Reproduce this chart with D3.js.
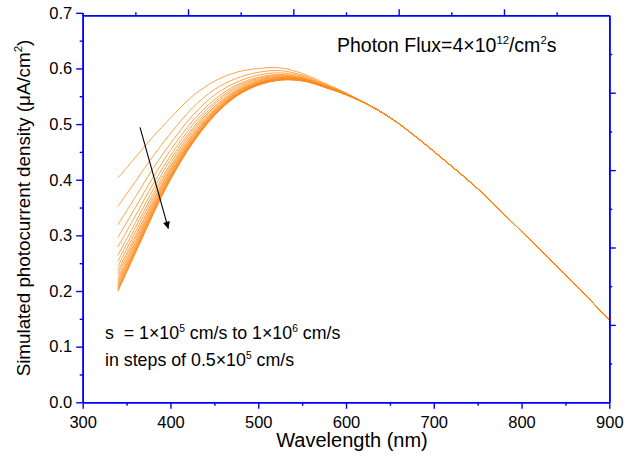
<!DOCTYPE html>
<html>
<head>
<meta charset="utf-8">
<script src="https://d3js.org/d3.v7.min.js"></script>
<style>
  body { margin: 0; background: #fff; }
  text { font-family: "Liberation Sans", Arial, sans-serif; fill: #000; }
</style>
</head>
<body>
<div id="home"></div>
<script>
// wavelengths (nm) where each curve was read, up to 600 nm
const waveHead = [340, 360, 380, 400, 425, 450, 475, 500, 525, 550, 575, 600];
// one row per s value: 1e5 .. 1e6 cm/s in steps of 0.5e5
const sValues = [1, 1.5, 2, 2.5, 3, 3.5, 4, 4.5, 5, 5.5, 6, 6.5, 7, 7.5, 8, 8.5, 9, 9.5, 10];
const headCurves = [
  [0.403, 0.440, 0.477, 0.511, 0.550, 0.577, 0.593, 0.600, 0.601, 0.591, 0.574, 0.556],
  [0.352, 0.397, 0.442, 0.483, 0.529, 0.562, 0.582, 0.593, 0.596, 0.588, 0.572, 0.555],
  [0.319, 0.369, 0.420, 0.465, 0.515, 0.552, 0.575, 0.588, 0.592, 0.586, 0.571, 0.555],
  [0.296, 0.350, 0.404, 0.453, 0.505, 0.544, 0.570, 0.584, 0.589, 0.584, 0.570, 0.554],
  [0.279, 0.335, 0.392, 0.443, 0.498, 0.539, 0.567, 0.582, 0.588, 0.583, 0.569, 0.554],
  [0.264, 0.323, 0.382, 0.436, 0.492, 0.535, 0.564, 0.580, 0.586, 0.582, 0.569, 0.554],
  [0.253, 0.314, 0.374, 0.429, 0.488, 0.531, 0.561, 0.578, 0.585, 0.581, 0.568, 0.554],
  [0.244, 0.306, 0.368, 0.424, 0.484, 0.529, 0.559, 0.577, 0.584, 0.581, 0.568, 0.554],
  [0.236, 0.299, 0.362, 0.420, 0.480, 0.526, 0.558, 0.575, 0.583, 0.580, 0.568, 0.554],
  [0.230, 0.294, 0.358, 0.417, 0.478, 0.524, 0.556, 0.5745, 0.582, 0.580, 0.567, 0.553],
  [0.224, 0.289, 0.354, 0.4135, 0.475, 0.5226, 0.555, 0.5737, 0.5817, 0.5795, 0.567, 0.553],
  [0.219, 0.285, 0.351, 0.411, 0.473, 0.521, 0.554, 0.573, 0.581, 0.579, 0.567, 0.553],
  [0.215, 0.281, 0.348, 0.4085, 0.4715, 0.520, 0.553, 0.572, 0.5807, 0.579, 0.567, 0.553],
  [0.211, 0.278, 0.345, 0.4065, 0.470, 0.519, 0.5525, 0.572, 0.580, 0.579, 0.567, 0.553],
  [0.208, 0.275, 0.343, 0.405, 0.469, 0.518, 0.552, 0.571, 0.580, 0.578, 0.567, 0.553],
  [0.205, 0.273, 0.341, 0.403, 0.4675, 0.517, 0.551, 0.571, 0.5796, 0.578, 0.567, 0.553],
  [0.2025, 0.271, 0.339, 0.402, 0.466, 0.516, 0.5507, 0.5705, 0.5794, 0.578, 0.567, 0.553],
  [0.201, 0.269, 0.338, 0.401, 0.466, 0.5155, 0.550, 0.570, 0.579, 0.578, 0.567, 0.553],
  [0.199, 0.268, 0.337, 0.400, 0.465, 0.515, 0.550, 0.570, 0.579, 0.578, 0.567, 0.553]
];
// all curves coincide above 600 nm
const waveTail = [625, 650, 675, 700, 725, 750, 775, 800, 825, 850, 875, 900];
const tailValues = [0.535, 0.512, 0.483, 0.451, 0.418, 0.384, 0.346, 0.307, 0.268, 0.229, 0.189, 0.148];

const xTicks = [300, 400, 500, 600, 700, 800, 900];
const yTicks = [0.0, 0.1, 0.2, 0.3, 0.4, 0.5, 0.6, 0.7];

const w = 632, h = 465;
const blue = "#0000ff";

const svg = d3.select("#home").append("svg")
  .attr("width", w).attr("height", h);

const x = d3.scaleLinear().domain([300, 900]).range([82.7, 609.3]);
const y = d3.scaleLinear().domain([0, 0.7]).range([402.3, 12.8]);
// unlabelled top / right axes use their own 0..1 scale
const xTop = d3.scaleLinear().domain([0, 1]).range([82.7, 609.3]);
const yRight = d3.scaleLinear().domain([0, 1]).range([402.3, 15.3]);

const curves = headCurves.map(row => {
  const pts = waveHead.map((wl, i) => [wl, row[i]]);
  return pts.concat(waveTail.map((wl, i) => [wl, tailValues[i]]));
});

const line = d3.line()
  .x(d => x(d[0]))
  .y(d => y(d[1]))
  .curve(d3.curveCatmullRom.alpha(0.5));

svg.append("g").selectAll("path")
  .data(curves)
  .enter().append("path")
  .attr("d", line)
  .attr("fill", "none")
  .attr("stroke", "#ff8a1c")
  .attr("stroke-width", 0.8);

// axes
function styleAxis(g) {
  g.selectAll(".domain").attr("stroke", blue).attr("stroke-width", 1.6);
  g.selectAll(".tick line").attr("stroke", blue).attr("stroke-width", 1.4);
  g.selectAll(".tick text").attr("font-size", 16.5).attr("font-family", "Liberation Sans, Arial, sans-serif").attr("fill", "#000");
}

// bottom
svg.append("g").attr("transform", "translate(0,402.3)")
  .call(d3.axisBottom(x).tickValues(d3.range(350, 900, 100)).tickSize(3.5).tickFormat("").tickSizeOuter(0))
  .call(styleAxis);
svg.append("g").attr("transform", "translate(0,402.3)")
  .call(d3.axisBottom(x).tickValues(xTicks).tickSize(6.5).tickPadding(7).tickFormat(d3.format("d")).tickSizeOuter(0))
  .call(styleAxis);

// left
svg.append("g").attr("transform", "translate(82.7,0)")
  .call(d3.axisLeft(y).tickValues(d3.range(0.05, 0.7, 0.1)).tickSize(3).tickFormat("").tickSizeOuter(0))
  .call(styleAxis);
svg.append("g").attr("transform", "translate(82.7,0)")
  .call(d3.axisLeft(y).tickValues(yTicks).tickSize(6.5).tickPadding(4).tickFormat(d3.format(".1f")).tickSizeOuter(0))
  .call(styleAxis);

// top
svg.append("g").attr("transform", "translate(0,15.3)")
  .call(d3.axisTop(xTop).tickValues([0.1, 0.3, 0.5, 0.7, 0.9]).tickSize(3).tickFormat("").tickSizeOuter(0))
  .call(styleAxis);
svg.append("g").attr("transform", "translate(0,15.3)")
  .call(d3.axisTop(xTop).tickValues([0.2, 0.4, 0.6, 0.8]).tickSize(6).tickFormat("").tickSizeOuter(0))
  .call(styleAxis);

// right
svg.append("g").attr("transform", "translate(609.3,0)")
  .call(d3.axisRight(yRight).tickValues([0.1, 0.3, 0.5, 0.7, 0.9]).tickSize(3).tickFormat("").tickSizeOuter(0))
  .call(styleAxis);
svg.append("g").attr("transform", "translate(609.3,0)")
  .call(d3.axisRight(yRight).tickValues([0.2, 0.4, 0.6, 0.8]).tickSize(6.5).tickFormat("").tickSizeOuter(0))
  .call(styleAxis);

// axis titles
svg.append("text")
  .attr("x", 352).attr("y", 447)
  .attr("text-anchor", "middle")
  .attr("font-size", 20)
  .text("Wavelength (nm)");

const yt = svg.append("text")
  .attr("transform", "translate(30,208) rotate(-90)")
  .attr("text-anchor", "middle")
  .attr("font-size", 18.8);
yt.append("tspan").text("Simulated photocurrent density (\u03bcA/cm");
yt.append("tspan").attr("font-size", 11.5).attr("dy", -8).text("2");
yt.append("tspan").attr("dy", 8).text(")");

// annotations
function supText(xp, yp, parts, size) {
  const t = svg.append("text").attr("x", xp).attr("y", yp).attr("font-size", size);
  parts.forEach(p => {
    if (p.sup) {
      t.append("tspan").attr("font-size", size * 0.58).attr("dy", -size * 0.42).text(p.sup);
    } else {
      t.append("tspan").attr("dy", p.after ? size * 0.42 : 0).text(p.t);
    }
  });
}

supText(337, 52, [
  {t: "Photon Flux=4\u00d710"}, {sup: "12"}, {t: "/cm", after: true}, {sup: "2"}, {t: "s", after: true}
], 19.5);

supText(105, 339, [
  {t: "s \u00a0= 1\u00d710"}, {sup: "5"}, {t: " cm/s to 1\u00d710", after: true}, {sup: "6"}, {t: " cm/s", after: true}
], 17.8);

supText(105, 366, [
  {t: "in steps of 0.5\u00d710"}, {sup: "5"}, {t: " cm/s", after: true}
], 17.8);

// arrow showing increasing s
const arrowFrom = [365.3, 0.494];
const arrowTo = [397.6, 0.312];

svg.append("defs").append("marker")
  .attr("id", "head")
  .attr("viewBox", "0 0 10 10")
  .attr("refX", 10).attr("refY", 5)
  .attr("markerWidth", 12).attr("markerHeight", 7)
  .attr("markerUnits", "userSpaceOnUse")
  .attr("orient", "auto")
  .append("path").attr("d", "M0,0 L10,5 L0,10 z").attr("fill", "#000");

svg.append("line")
  .attr("x1", x(arrowFrom[0])).attr("y1", y(arrowFrom[1]))
  .attr("x2", x(arrowTo[0])).attr("y2", y(arrowTo[1]))
  .attr("stroke", "#000").attr("stroke-width", 1.1)
  .attr("marker-end", "url(#head)");
</script>
</body>
</html>
